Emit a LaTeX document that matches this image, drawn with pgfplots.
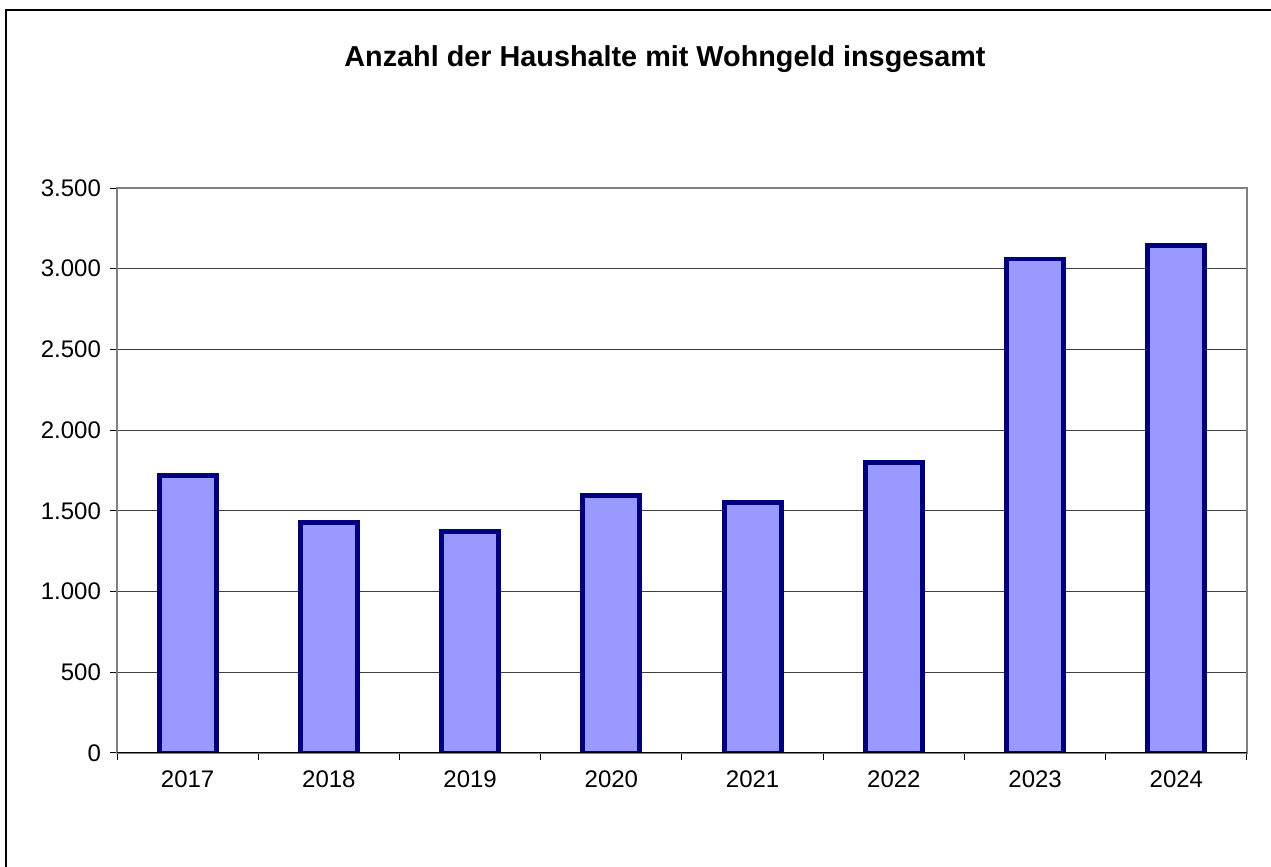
\documentclass[border=0pt]{standalone}
\usepackage{fontspec}
\setmainfont{Liberation Sans}
\usepackage{pgfplots}
\pgfplotsset{compat=1.18}
\definecolor{barfill}{HTML}{9999FF}
\definecolor{barline}{HTML}{000080}
\definecolor{frame}{HTML}{808080}

\begin{document}
\begin{tikzpicture}
% page: 1271x867 px at 0.5pt per px
\useasboundingbox (0,0) rectangle (635.5pt,433.5pt);
\draw[black, line width=0.6pt] (3pt,0) -- (3pt,428.5pt) -- (635.5pt,428.5pt);
\node[anchor=base, font=\fontsize{14.4}{17}\selectfont\bfseries] at (332.5pt,400pt)
  {Anzahl der Haushalte mit Wohngeld insgesamt};
\begin{axis}[
  at={(58.5pt,57pt)}, anchor=south west,
  scale only axis, width=565pt, height=282.5pt,
  xmin=-0.5, xmax=7.5, ymin=0, ymax=3500,
  xtick={0,...,7},
  xticklabels={2017,2018,2019,2020,2021,2022,2023,2024},
  major x tick style={draw=none},
  minor xtick={-0.5,0.5,...,7.5},
  minor tick length=3.5pt,
  minor x tick style={black, line width=0.5pt},
  ytick={0,500,...,3500},
  ytick pos=left, xtick pos=bottom,
  tick align=outside, major tick length=3.5pt,
  y tick style={black, line width=0.5pt},
  ymajorgrids, grid style={black!75, line width=0.5pt},
  axis line style={frame, line width=0.8pt},
  tick label style={font=\fontsize{12}{14}\selectfont},
  xticklabel style={yshift=-2pt},
  yticklabel style={xshift=-1pt},
  /pgf/number format/.cd, assume math mode=true, use comma, 1000 sep={.},
]
\addplot[ybar, bar width=28.5pt, fill=barfill, draw=barline, line width=2.4pt]
  coordinates {(0,1720) (1,1430) (2,1372) (3,1595) (4,1550) (5,1800) (6,3060) (7,3142)};
\draw[black, line width=0.6pt] (rel axis cs:0,0) -- (rel axis cs:1,0);
\end{axis}
\end{tikzpicture}
\end{document}
